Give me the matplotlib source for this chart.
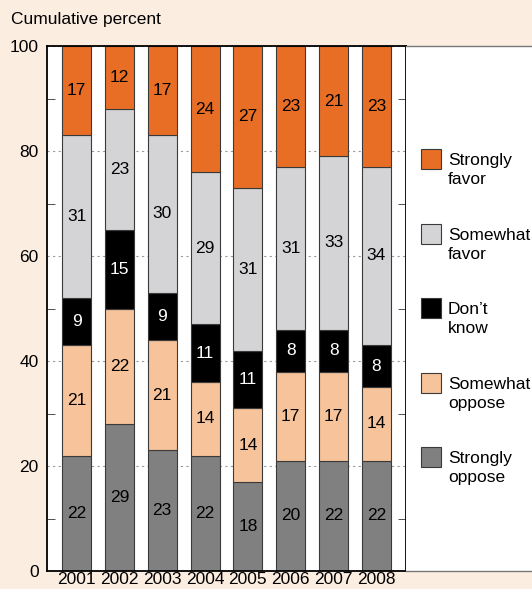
import numpy as np
import matplotlib.pyplot as plt
from matplotlib.patches import Rectangle
from matplotlib.ticker import FixedLocator

plt.rcParams['font.family'] = ['Liberation Sans', 'DejaVu Sans']

years = ['2001', '2002', '2003', '2004', '2005', '2006', '2007', '2008']
series = ['Strongly\noppose', 'Somewhat\noppose', 'Don\u2019t\nknow',
          'Somewhat\nfavor', 'Strongly\nfavor']
colors = ['#808080', '#F6C39A', '#000000', '#D4D4D6', '#E86E26']
text_colors = ['black', 'black', 'white', 'black', 'black']

# printed values (bottom to top)
strongly_oppose = [22, 29, 23, 22, 18, 20, 22, 22]
somewhat_oppose = [21, 22, 21, 14, 14, 17, 17, 14]
dont_know = [9, 15, 9, 11, 11, 8, 8, 8]
somewhat_favor = [31, 23, 30, 29, 31, 31, 33, 34]
strongly_favor = [17, 12, 17, 24, 27, 23, 21, 23]
# bottom segment as actually drawn (bars are forced to reach 100)
strongly_oppose_drawn = [22, 28, 23, 22, 17, 21, 21, 21]

labels = [strongly_oppose, somewhat_oppose, dont_know, somewhat_favor, strongly_favor]
heights = [strongly_oppose_drawn, somewhat_oppose, dont_know, somewhat_favor, strongly_favor]

FS = 12.5
W, H = 532, 589
fig = plt.figure(figsize=(W/100, H/100), dpi=100, facecolor='#FCEDE1')
ax = fig.add_axes([47/W, 18/H, 359/W, 525/H])
ax.set_facecolor('white')

x = np.arange(len(years))
bottom = np.zeros(len(years))
for h, lab, c, tc in zip(heights, labels, colors, text_colors):
    h = np.array(h, dtype=float)
    ax.bar(x, h, width=0.68, bottom=bottom, color=c, edgecolor='#3a3a3a',
           linewidth=0.8, zorder=2)
    for xi, b, hi, v in zip(x, bottom, h, lab):
        ax.text(xi, b + hi/2, str(v), ha='center', va='center',
                fontsize=FS, color=tc, zorder=3)
    bottom += h

ax.set_xlim(-0.69, 7.69)
ax.set_ylim(0, 100)
ax.set_xticks(x)
ax.set_xticklabels(years, fontsize=FS)
ax.set_yticks([0, 20, 40, 60, 80, 100])
ax.set_yticklabels(['0', '20', '40', '60', '80', '100'], fontsize=FS)
ax.yaxis.set_minor_locator(FixedLocator([10, 30, 50, 70, 90]))
ax.tick_params(axis='x', length=0, pad=0.5)
ax.tick_params(axis='y', which='major', length=0, pad=6)
ax.tick_params(axis='y', which='minor', direction='in', length=6,
               left=True, right=True, color='#333333')
ax.grid(axis='y', which='major', linestyle=(0, (2, 3)), color='#9a9a9a',
        linewidth=0.8, zorder=0)
ax.set_axisbelow(True)
for s in ax.spines.values():
    s.set_color('black')
    s.set_linewidth(1.3)

# legend panel
lg = fig.add_axes([406/W, 18/H, 126/W, 525/H])
lg.set_facecolor('white')
lg.set_xlim(406, 532)
lg.set_ylim(571, 46)
lg.set_xticks([])
lg.set_yticks([])
for k in ['left', 'right']:
    lg.spines[k].set_visible(False)
for k in ['top', 'bottom']:
    lg.spines[k].set_color('#777777')
    lg.spines[k].set_linewidth(1.0)

tops = [447, 373, 298, 224, 149]
for name, c, t in zip(series, colors, tops):
    lg.add_patch(Rectangle((421, t), 20, 20, facecolor=c,
                           edgecolor='#3a3a3a', linewidth=0.8))
    lg.text(448, t + 4, name, ha='left', va='top', fontsize=FS,
            linespacing=1.35)

fig.text(11/W, 1 - 12/H, 'Cumulative percent', ha='left', va='top', fontsize=FS)

fig.savefig('out.png', dpi=100, facecolor=fig.get_facecolor())
